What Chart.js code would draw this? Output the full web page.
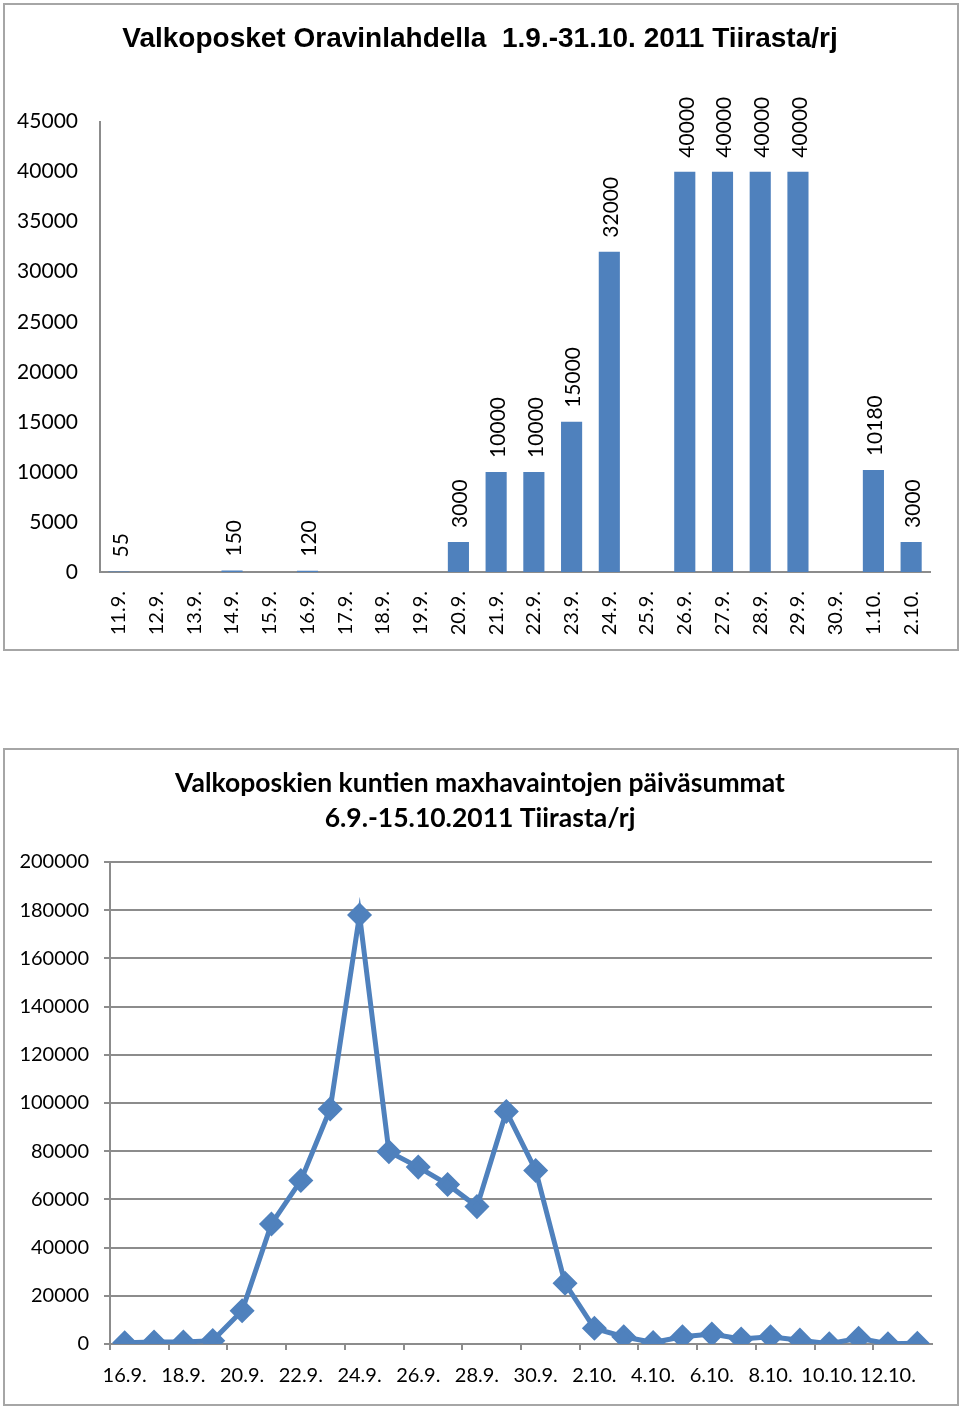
<!DOCTYPE html>
<html>
<head>
<meta charset="utf-8">
<script src="https://cdn.jsdelivr.net/npm/chart.js@4.4.1/dist/chart.umd.min.js"></script>
<style>
  body { margin: 0; background: #fff; width: 960px; height: 1406px; position: relative; overflow: hidden; }
  canvas { position: absolute; left: 0; }
  .frame { position: absolute; border: 2px solid #a6a6a6; box-sizing: border-box; pointer-events: none; }
</style>
</head>
<body>
<div class="frame" style="left:3px;top:3px;width:956px;height:648px;"></div>
<div class="frame" style="left:3px;top:748px;width:956px;height:658px;"></div>
<canvas id="bars" width="960" height="650" style="top:0"></canvas>
<canvas id="sums" width="960" height="658" style="top:748px"></canvas>
<script>
// päivät ja määrät, Oravinlahti
const barDates = ['11.9.', '12.9.', '13.9.', '14.9.', '15.9.', '16.9.', '17.9.', '18.9.', '19.9.', '20.9.', '21.9.',
  '22.9.', '23.9.', '24.9.', '25.9.', '26.9.', '27.9.', '28.9.', '29.9.', '30.9.', '1.10.', '2.10.'];
const barCounts = [55, null, null, 150, null, 120, null, null, null, 3000, 10000,
  10000, 15000, 32000, null, 40000, 40000, 40000, 40000, null, 10180, 3000];

// kuntien maxhavaintojen päiväsummat
const lineDates = ['16.9.', '17.9.', '18.9.', '19.9.', '20.9.', '21.9.', '22.9.', '23.9.', '24.9.', '25.9.',
  '26.9.', '27.9.', '28.9.', '29.9.', '30.9.', '1.10.', '2.10.', '3.10.', '4.10.', '5.10.',
  '6.10.', '7.10.', '8.10.', '9.10.', '10.10.', '11.10.', '12.10.', '13.10.'];
const lineSums = [550, 800, 800, 1400, 13800, 49800, 67800, 97500, 178000, 79800,
  73400, 66200, 57000, 96500, 72000, 25200, 6500, 3000, 600, 3000,
  4100, 2100, 3000, 1600, 100, 2400, 100, 300];

const blue = '#4f81bd';
const grey = '#8c8c8c';
Chart.defaults.color = '#000';
Chart.defaults.font.family = 'Lato, sans-serif';

// tyhjä oikea akseli, jotta otsikko pysyy keskellä
const spacer = w => ({
  type: 'linear', position: 'right', display: true,
  grid: { display: false }, border: { display: false }, ticks: { display: false },
  afterFit: s => { s.width = w; }
});

const barValueLabels = {
  id: 'barValueLabels',
  afterDatasetsDraw(chart) {
    const ctx = chart.ctx;
    const values = chart.data.datasets[0].data;
    ctx.save();
    ctx.font = '21px Lato';
    ctx.fillStyle = '#000';
    ctx.textAlign = 'left';
    ctx.textBaseline = 'middle';
    chart.getDatasetMeta(0).data.forEach((bar, i) => {
      if (values[i] == null) return;
      ctx.save();
      ctx.translate(bar.x + 2, bar.y - 14);
      ctx.rotate(-Math.PI / 2);
      ctx.fillText(String(values[i]), 0, 0);
      ctx.restore();
    });
    ctx.restore();
  }
};

new Chart(document.getElementById('bars'), {
  type: 'bar',
  data: {
    labels: barDates,
    datasets: [{ data: barCounts, backgroundColor: blue, barPercentage: 0.56, categoryPercentage: 1 }]
  },
  options: {
    responsive: false,
    animation: false,
    layout: { padding: 0 },
    plugins: {
      legend: { display: false },
      tooltip: { enabled: false },
      title: {
        display: true,
        text: 'Valkoposket Oravinlahdella  1.9.-31.10. 2011 Tiirasta/rj',
        font: { family: "'Liberation Sans Narrow', 'Liberation Sans', sans-serif", size: 28, weight: 'bold' },
        padding: { top: 22, bottom: 66 }
      }
    },
    scales: {
      x: {
        grid: { display: false },
        border: { display: true, color: grey, width: 2 },
        ticks: { autoSkip: false, minRotation: 90, maxRotation: 90, padding: 11, font: { size: 20 } },
        afterFit: s => { s.height = 78; }
      },
      y: {
        min: 0, max: 45000,
        grid: { display: false },
        border: { display: true, color: grey, width: 2 },
        ticks: { stepSize: 5000, padding: 14, font: { size: 21 }, callback: v => String(v) },
        afterFit: s => { s.width = 100; }
      },
      pad: spacer(30)
    }
  },
  plugins: [barValueLabels]
});

new Chart(document.getElementById('sums'), {
  type: 'line',
  data: {
    labels: lineDates,
    datasets: [{
      data: lineSums,
      borderColor: blue,
      backgroundColor: blue,
      borderWidth: 5,
      pointStyle: 'rectRot',
      pointRadius: 9,
      pointBackgroundColor: blue,
      pointBorderColor: blue,
      tension: 0
    }]
  },
  options: {
    responsive: false,
    animation: false,
    layout: { padding: 0 },
    plugins: {
      legend: { display: false },
      tooltip: { enabled: false },
      title: {
        display: true,
        text: ['Valkoposkien kuntien maxhavaintojen päiväsummat', '6.9.-15.10.2011 Tiirasta/rj'],
        font: { size: 26.5, weight: 'bold', lineHeight: 1.32 },
        padding: { top: 18, bottom: 26 }
      }
    },
    scales: {
      x: {
        offset: true,
        grid: {
          offset: true,
          drawOnChartArea: false,
          tickLength: 6,
          lineWidth: 2,
          color: c => (c.index % 2 === 0 ? grey : 'rgba(0,0,0,0)')
        },
        border: { display: true, color: grey, width: 2 },
        ticks: {
          autoSkip: false, maxRotation: 0, padding: 14, font: { size: 20 },
          callback: (v, i) => (i % 2 === 0 ? lineDates[i] : '')
        },
        afterFit: s => { s.height = 62; }
      },
      y: {
        min: 0, max: 200000,
        grid: { color: grey, lineWidth: 2, tickLength: 6 },
        border: { display: true, color: grey, width: 2 },
        ticks: { stepSize: 20000, padding: 15, font: { size: 20 }, callback: v => String(v) },
        afterFit: s => { s.width = 110; }
      },
      pad: spacer(28)
    }
  }
});
</script>
</body>
</html>
